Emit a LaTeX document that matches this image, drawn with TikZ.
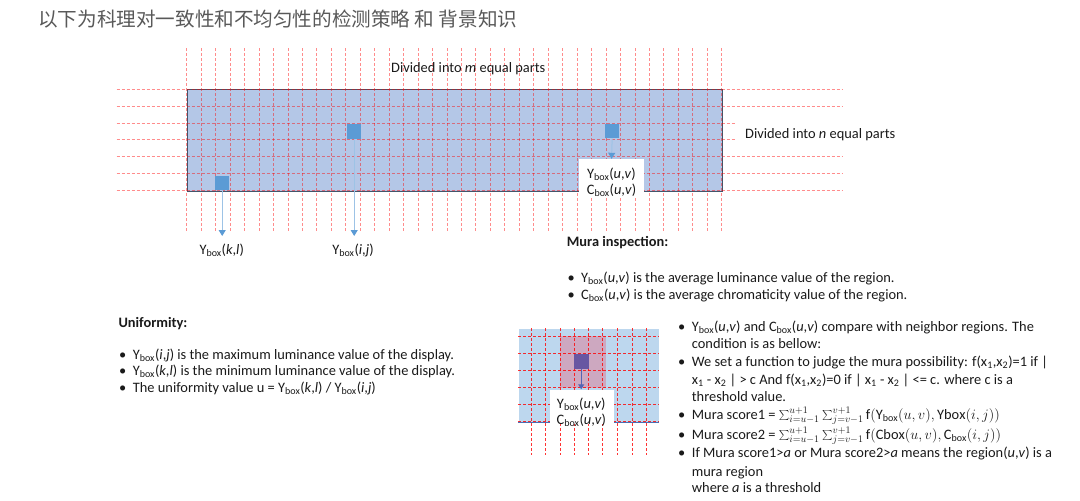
\documentclass[tikz,border=0pt]{standalone}
\usepackage{fontspec}
\setmainfont{Carlito}
\newfontfamily\cjkfont{Noto Sans CJK SC}
\usetikzlibrary{arrows.meta}
\definecolor{panelblue}{HTML}{B4C7E7}
\definecolor{paneledge}{HTML}{44546A}
\definecolor{sqblue}{HTML}{5B9BD5}
\definecolor{arrline}{HTML}{9DC3E6}
\definecolor{smallblue}{HTML}{BDD7EE}
\definecolor{pinkreg}{HTML}{CDA8C0}
\definecolor{purplesq}{HTML}{6857A2}
\definecolor{purplearr}{HTML}{5464B4}
\definecolor{edgeblue}{HTML}{4A6FB5}
\definecolor{titlegray}{HTML}{595959}
\definecolor{txt}{HTML}{1A1A1A}
\newcommand\fsz{\fontsize{14.4}{17}\selectfont}
\newcommand\bxs{\textsubscript{box}}
\tikzset{
  gridln/.style={draw=red, draw opacity=0.45, line width=0.8pt, dash pattern=on 3pt off 2pt},
  smallgridln/.style={draw=red, draw opacity=0.8, line width=0.8pt, dash pattern=on 3pt off 2pt},
  cell/.style={fill=sqblue, minimum size=14.5pt, inner sep=0pt, draw=none},
  arr/.style={draw=arrline, line width=1pt, -{Triangle[length=6pt,width=7pt,fill=sqblue,color=sqblue]}},
  parr/.style={draw=purplearr, line width=1pt, -{Triangle[length=5pt,width=6pt]}},
  ln/.style={anchor=base west, inner sep=0pt, font=\fsz, text=txt},
  lbl/.style={inner sep=0pt, font=\fsz, text=txt}
}
\begin{document}
\begin{tikzpicture}[x=1pt,y=-1pt]
\useasboundingbox[fill=white] (0,0) rectangle (1080,501);

% title
\node[anchor=west, inner sep=0pt, text=titlegray, font=\cjkfont\fontsize{19.6}{22}\selectfont] (title) at (38,19.5) {以下为科理对一致性和不均匀性的检测策略 和 背景知识};

% main panel
\node[fill=panelblue, draw=paneledge, line width=1pt, minimum width=535pt, minimum height=101.7pt, inner sep=0pt, anchor=north west] (panel) at (186.7,89) {};
\foreach \i in {0,...,37} {
  \draw[gridln] (186.7+\i*14.459,48) -- (186.7+\i*14.459,231);
}
\foreach \i in {0,1,4,5,6} {
  \draw[gridln] (116.7,89+\i*16.95) -- (842,89+\i*16.95);
}
\foreach \i in {2,3} {
  \draw[gridln] (116.7,89+\i*16.95) -- (736,89+\i*16.95);
}

% cells
\node[cell] (kl) at (222.2,182.8) {};
\node[cell] (ij) at (354.2,131.5) {};
\node[cell] (uv) at (612.2,131) {};

% white box with labels
\node[fill=white, minimum width=65pt, minimum height=39pt, inner sep=0pt] (uvbox) at (611.5,178.5) {};
\node[lbl] (uvY) at (611.5,174) {Y\bxs(\textit{u},\textit{v})};
\node[lbl] (uvC) at (611.5,190) {C\bxs(\textit{u},\textit{v})};

% arrows
\coordinate (kltip) at (222.2,236);
\coordinate (ijtip) at (354.2,236);
\draw[arr] (kl.south) -- (kltip);
\draw[arr] (ij.south) -- (ijtip);
\draw[arr] (uv.south) -- (uvbox.north);

\node[lbl] (klY) at (221.7,250) {Y\bxs(\textit{k},\textit{l})};
\node[lbl] (ijY) at (353,250) {Y\bxs(\textit{i},\textit{j})};

\node[ln] (divm) at (391,72.5) {Divided into \textit{m} equal parts};
\node[ln] (divn) at (745,138.5) {Divided into \textit{n} equal parts};

% Mura inspection
\node[ln, font=\fsz\bfseries] (mura) at (566.7,246.5) {Mura inspection:};
\node[ln] (m1b) at (567.5,282) {\textbullet};
\node[ln] (m1) at (581,282) {Y\bxs(\textit{u},\textit{v}) is the average luminance value of the region.};
\node[ln] (m2b) at (567.5,299) {\textbullet};
\node[ln] (m2) at (581,299) {C\bxs(\textit{u},\textit{v}) is the average chromaticity value of the region.};

% Uniformity
\node[ln, font=\fsz\bfseries] (unif) at (118.3,327.5) {Uniformity:};
\node[ln] (u1b) at (119,359) {\textbullet};
\node[ln] (u1) at (132.7,359) {Y\bxs(\textit{i},\textit{j}) is the maximum luminance value of the display.};
\node[ln] (u2b) at (119,375.5) {\textbullet};
\node[ln] (u2) at (132.7,375.5) {Y\bxs(\textit{k},\textit{l}) is the minimum luminance value of the display.};
\node[ln] (u3b) at (119,392) {\textbullet};
\node[ln] (u3) at (132.7,392) {The uniformity value u = Y\bxs(\textit{k},\textit{l}) / Y\bxs(\textit{i},\textit{j})};

% small grid
\node[fill=smallblue, minimum width=140.7pt, minimum height=94pt, inner sep=0pt, anchor=north west] (sgrid) at (518.3,328.3) {};
\node[fill=pinkreg, minimum width=46pt, minimum height=51.7pt, inner sep=0pt, anchor=north west] (preg) at (560,336) {};
\foreach \xx in {531,545.7,560,574,588.3,602.7,617.3,632,646.7} {
  \draw[smallgridln] (\xx,328.3) -- (\xx,455);
}
\foreach \yy in {336,353.3,370.7,387.7,404.3,421} {
  \draw[smallgridln] (518.3,\yy) -- (659,\yy);
}
\draw[draw=edgeblue, line width=1pt] (sgrid.south west) -- (sgrid.south east);
\node[fill=purplesq, minimum size=15pt, inner sep=0pt] (ps) at (581.2,361.3) {};
\node[fill=white, minimum width=64pt, minimum height=34.5pt, inner sep=0pt, anchor=north west] (sbox) at (549.3,389.3) {};
\draw[parr] (ps.south) -- (sbox.north -| ps.south);
\node[lbl] (sY) at (581.3,404.5) {Y\bxs(\textit{u},\textit{v})};
\node[lbl] (sC) at (581.3,420) {C\bxs(\textit{u},\textit{v})};

% right bullets
\node[ln] (r1b) at (678,331) {\textbullet};
\node[ln] (r1) at (691.7,331) {Y\bxs(\textit{u},\textit{v}) and C\bxs(\textit{u},\textit{v}) compare with neighbor regions. The};
\node[ln] (r1c) at (691.7,348.5) {condition is as bellow:};
\node[ln] (r2b) at (678,366) {\textbullet};
\node[ln] (r2) at (691.7,366) {We set a function to judge the mura possibility: f(x\textsubscript{1},x\textsubscript{2})=1 if |};
\node[ln] (r2c) at (691.7,384) {x\textsubscript{1} - x\textsubscript{2} | > c And f(x\textsubscript{1},x\textsubscript{2})=0 if | x\textsubscript{1} - x\textsubscript{2} | <= c. where c is a};
\node[ln] (r2d) at (691.7,401) {threshold value.};
\node[ln] (r3b) at (678,419) {\textbullet};
\node[ln] (r3) at (691.7,419) {Mura score1 = $\sum_{i=u-1}^{u+1}\sum_{j=v-1}^{v+1}\mathrm{f}(\mathrm{Y}_{\mathrm{box}}(u,v),\mathrm{Ybox}(i,j))$};
\node[ln] (r4b) at (678,439) {\textbullet};
\node[ln] (r4) at (691.7,439) {Mura score2 = $\sum_{i=u-1}^{u+1}\sum_{j=v-1}^{v+1}\mathrm{f}(\mathrm{Cbox}(u,v),\mathrm{C}_{\mathrm{box}}(i,j))$};
\node[ln] (r5b) at (678,457.5) {\textbullet};
\node[ln] (r5) at (691.7,457.5) {If Mura score1>\textit{a} or Mura score2>\textit{a} means the region(\textit{u},\textit{v}) is a};
\node[ln] (r5c) at (691.7,476) {mura region};
\node[ln] (r5d) at (691.7,492.5) {where \textit{a} is a threshold};
\end{tikzpicture}
\end{document}
